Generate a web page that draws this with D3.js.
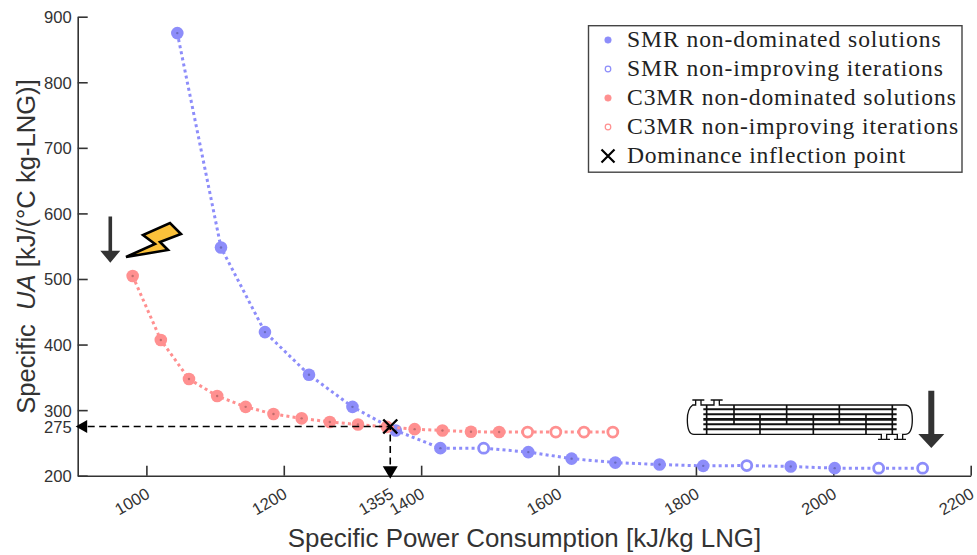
<!DOCTYPE html>
<html>
<head>
<meta charset="utf-8">
<script src="https://cdn.jsdelivr.net/npm/d3@7"></script>
<style>
  html, body { margin: 0; padding: 0; background: #fff; }
  svg { display: block; }
  text { font-family: "Liberation Sans", Arial, sans-serif; fill: #333; }
  .legend text { font-family: "Liberation Serif", serif; fill: #222; }
</style>
</head>
<body>
<svg id="chart" width="977" height="555"></svg>
<script>
// values
const smrX = [1045,1108.6,1172.6,1236.7,1300,1363,1428,1491,1556,1619,1682.6,1747,1810.6,1874,1938,2002,2066,2130];
const smrY = [875,548,419,354,305,269,242,242,236,226,220,217,215,215.5,214,211.5,211.5,211.5];
const smrOpen = [false,false,false,false,false,false,false,true,false,false,false,false,false,true,false,false,true,true];

const c3mrX = [980,1021,1062,1103,1144.5,1185,1226,1267,1308,1350,1390.5,1431,1472.5,1513.5,1555,1596,1637,1679];
const c3mrY = [504.5,407,347.5,321.5,305,294,287.5,282,278,274.5,271,269,267,266.6,266.6,266.6,266.6,266.6];
const c3mrOpen = [false,false,false,false,false,false,false,false,false,false,false,false,false,false,true,true,true,true];

const inflection = [1355, 275];
const xTicks = [1000,1200,1355,1400,1600,1800,2000,2200];
const yTicks = [200,275,300,400,500,600,700,800,900];
const legendLabels = ["SMR non-dominated solutions","SMR non-improving iterations","C3MR non-dominated solutions","C3MR non-improving iterations","Dominance inflection point"];

const BLUE = "#8d8dfa", RED = "#ff9090";

const svg = d3.select("#chart");
const x = d3.scaleLinear().domain([900,2200]).range([77.7,970.7]);
const y = d3.scaleLinear().domain([200,900]).range([475.7,16.7]);

// axes, MATLAB style: ticks point inward, no box
const xAxis = svg.append("g").attr("transform","translate(0,475.7)")
  .call(d3.axisBottom(x).tickValues(xTicks).tickSize(-10).tickSizeOuter(0).tickFormat(d3.format("d")));
const yAxis = svg.append("g").attr("transform","translate(77.7,0)")
  .call(d3.axisLeft(y).tickValues(yTicks).tickSize(-10).tickSizeOuter(0).tickFormat(d3.format("d")));
xAxis.selectAll(".tick").filter(d=>d===1355).select("line").remove();
yAxis.selectAll(".tick").filter(d=>d===275).select("line").remove();
[xAxis,yAxis].forEach(a=>{
  a.selectAll("path,line").attr("stroke","#333").attr("stroke-width",1.6);
  a.selectAll("text").style("font-size","16.6px").style("fill","#333");
});
xAxis.selectAll("text")
  .attr("text-anchor","end").attr("dy",null)
  .attr("transform","translate(4,21.5) rotate(-30)").attr("y",0).attr("x",0);
yAxis.selectAll("text").attr("x",-6).attr("dy","0.36em");

// axis titles
svg.append("text").attr("x",524.5).attr("y",547).attr("text-anchor","middle")
  .style("font-size","25.9px").text("Specific Power Consumption [kJ/kg LNG]");
const yTitle = svg.append("text").attr("transform","translate(35,246.5) rotate(-90)")
  .attr("text-anchor","middle").style("font-size","25.6px").style("white-space","pre");
yTitle.append("tspan").text("Specific  ");
yTitle.append("tspan").style("font-style","italic").text("UA");
yTitle.append("tspan").text(" [kJ/(°C kg-LNG)]");

// one series: dotted line then markers
function drawSeries(xs, ys, open, color){
  const pts = xs.map((d,i)=>({x:d,y:ys[i],open:open[i]}));
  const line = d3.line().x(d=>x(d.x)).y(d=>y(d.y));
  svg.append("path").datum(pts).attr("d",line).attr("fill","none")
    .attr("stroke",color).attr("stroke-width",3).attr("stroke-dasharray","3 3.2");
  svg.append("g").selectAll("circle").data(pts).join("circle")
    .attr("cx",d=>x(d.x)).attr("cy",d=>y(d.y))
    .attr("r",d=>d.open?5:6.3)
    .attr("fill",d=>d.open?"#fff":color)
    .attr("stroke",d=>d.open?color:"none")
    .attr("stroke-width",d=>d.open?2.8:0);
  svg.append("g").selectAll("circle").data(pts.filter(d=>!d.open)).join("circle")
    .attr("cx",d=>x(d.x)).attr("cy",d=>y(d.y)).attr("r",1.2)
    .attr("fill",d3.color(color).darker(0.8));
}
drawSeries(smrX,smrY,smrOpen,BLUE);
drawSeries(c3mrX,c3mrY,c3mrOpen,RED);

// inflection guides
const ix = x(inflection[0]), iy = y(inflection[1]);
svg.append("path").attr("d",`M${x(900)+10},${iy}H${ix}V${y(200)-10}`)
  .attr("fill","none").attr("stroke","#000").attr("stroke-width",1.6).attr("stroke-dasharray","7 4.5");
svg.append("path").attr("d",`M${x(900)-2},${iy}l11.5,-6.5v13z`).attr("fill","#000");
svg.append("path").attr("d",`M${ix},${y(200)+3}l-7.5,-12.5h15z`).attr("fill","#000");
const crossPath = (cx,cy,s)=>`M${cx-s},${cy-s}L${cx+s},${cy+s}M${cx-s},${cy+s}L${cx+s},${cy-s}`;
svg.append("path").attr("d",crossPath(ix,iy,7)).attr("stroke","#000").attr("stroke-width",2.4).attr("fill","none");

// legend
const legend = svg.append("g").attr("class","legend");
legend.append("rect").attr("x",588.5).attr("y",25.7).attr("width",373.5).attr("height",146.5)
  .attr("fill","#fff").attr("stroke","#444").attr("stroke-width",1.4);
legendLabels.forEach((label,i)=>{
  const ly = 40 + i*29;
  if(i<4){
    const c = i<2 ? BLUE : RED;
    const isOpen = i%2===1;
    legend.append("circle").attr("cx",608).attr("cy",ly).attr("r",isOpen?2.8:3.3)
      .attr("fill",isOpen?"#fff":c).attr("stroke",c).attr("stroke-width",isOpen?1.2:0.5);
  } else {
    legend.append("path").attr("d",crossPath(608,ly,6.5)).attr("stroke","#000").attr("stroke-width",2.2).attr("fill","none");
  }
  legend.append("text").attr("x",627).attr("y",ly+7).style("font-size","23.6px")
    .style("letter-spacing",i<4?"0.92px":"0.75px").text(label);
});

// decorations: down arrows, lightning bolt, heat exchanger
function bigArrow(cx,top,shaftEnd,tip,halfW,shaftW){
  svg.append("path").attr("fill","#333")
    .attr("d",`M${cx-shaftW/2},${top}H${cx+shaftW/2}V${shaftEnd}H${cx+halfW}L${cx},${tip}L${cx-halfW},${shaftEnd}H${cx-shaftW/2}Z`);
}
bigArrow(110.3,216.5,250.7,262.7,10,3.6);
bigArrow(931.3,390.7,434,448,13,6);

svg.append("path").attr("d","M126,257L155,244L143,235L170,223L181,234L160,242L168,250Z")
  .attr("fill","#fbc13a").attr("stroke","#000").attr("stroke-width",2.6).attr("stroke-linejoin","miter");

const hx = svg.append("g").attr("transform","translate(680,385) scale(0.3333)")
  .attr("fill","none").attr("stroke","#111");
hx.append("path").attr("stroke-width",4)
  .attr("d","M38,60H675Q697,60 697,104Q697,148 675,148H42Q22,148 22,104Q22,72 38,60Z");
const tubeRows = [73,88,103,118,133];
tubeRows.forEach((ty,i)=>{
  hx.append("line").attr("x1",70).attr("x2",650).attr("y1",ty).attr("y2",ty)
    .attr("stroke-width",i===2?8:6);
});
const baffles = [[80,60,148],[162,60,118],[240,88,148],[320,60,118],[400,88,148],[478,60,118],[558,88,148],[637,60,148]];
baffles.forEach(b=>{
  hx.append("line").attr("x1",b[0]).attr("x2",b[0]).attr("y1",b[1]).attr("y2",b[2]).attr("stroke-width",5);
});
// nozzles
[[55,60,45],[110,60,45],[612,148,163],[660,148,163]].forEach(n=>{
  hx.append("path").attr("stroke-width",4)
    .attr("d",`M${n[0]-8},${n[1]}V${n[2]}M${n[0]+8},${n[1]}V${n[2]}M${n[0]-18},${n[2]}H${n[0]+18}`);
  hx.append("line").attr("x1",n[0]-6).attr("x2",n[0]+6).attr("y1",n[1]).attr("y2",n[1]).attr("stroke","#fff").attr("stroke-width",6);
});
</script>
</body>
</html>
